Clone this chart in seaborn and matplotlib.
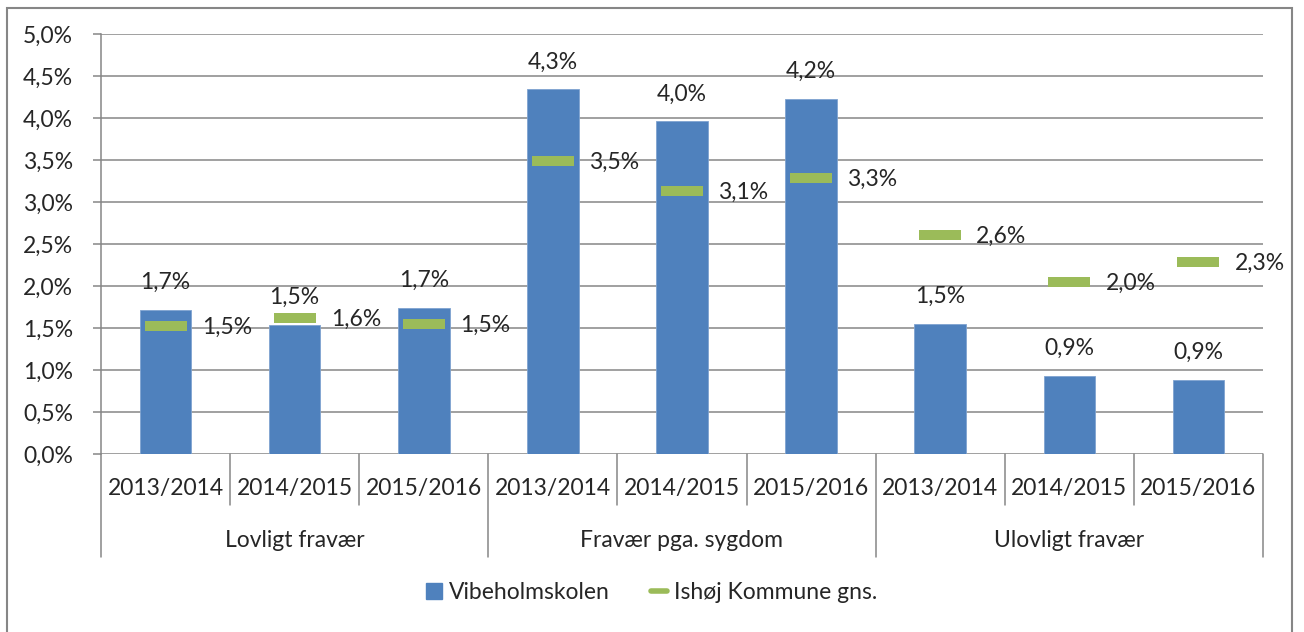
import matplotlib
matplotlib.use("Agg")
import matplotlib.pyplot as plt
import matplotlib.patches as mpatches
from matplotlib.lines import Line2D
import matplotlib.transforms as mtransforms
import seaborn as sns
import pandas as pd

# data
groups = ["Lovligt fravær", "Fravær pga. sygdom", "Ulovligt fravær"]
years = ["2013/2014", "2014/2015", "2015/2016"]
vibeholm = [1.72, 1.54, 1.74, 4.34, 3.96, 4.23, 1.55, 0.93, 0.88]
vibeholm_labels = ["1,7%", "1,5%", "1,7%", "4,3%", "4,0%", "4,2%", "1,5%", "0,9%", "0,9%"]
ishoj = [1.52, 1.62, 1.55, 3.49, 3.13, 3.29, 2.61, 2.05, 2.29]
ishoj_labels = ["1,5%", "1,6%", "1,5%", "3,5%", "3,1%", "3,3%", "2,6%", "2,0%", "2,3%"]
yticks = [0.0, 0.5, 1.0, 1.5, 2.0, 2.5, 3.0, 3.5, 4.0, 4.5, 5.0]

blue = "#4F81BD"
green = "#9BBB59"
gray = "#868686"

sns.set_style("white")
plt.rcParams["font.family"] = ["Lato", "DejaVu Sans"]
fs = 16.5

df = pd.DataFrame({
    "pos": list(range(9)),
    "group": [g for g in groups for _ in years],
    "year": years * 3,
    "vibeholm": vibeholm,
    "ishoj": ishoj,
})

fig = plt.figure(figsize=(13.04, 6.32), dpi=100)
ax = fig.add_axes([101 / 1304, 178 / 632, (1263 - 101) / 1304, 420 / 632])

sns.barplot(data=df, x="pos", y="vibeholm", color=blue, width=0.4,
            saturation=1, ax=ax, edgecolor="#7FA3D0", linewidth=0.6, zorder=3)
sns.scatterplot(data=df, x="pos", y="ishoj", marker="_", s=30 ** 2,
                linewidth=7.2, color=green, ax=ax, zorder=4, legend=False)

ax.set_xlim(-0.5, 8.5)
ax.set_ylim(0, 5.0)
ax.set_yticks(yticks)
ax.set_yticklabels([f"{t:.1f}".replace(".", ",") + "%" for t in yticks], fontsize=fs)
ax.tick_params(axis="y", length=6, width=1.1, color=gray, pad=14, left=True)
ax.set_xticks([])
ax.set_xlabel("")
ax.set_ylabel("")
ax.grid(axis="y", color=gray, linewidth=1.1, zorder=0)
ax.set_axisbelow(True)
for s in ["top", "right", "bottom"]:
    ax.spines[s].set_visible(False)
ax.spines["left"].set_color(gray)
ax.spines["left"].set_linewidth(1.1)

# value labels
for i, (v, lab) in enumerate(zip(vibeholm, vibeholm_labels)):
    ax.annotate(lab, (i, v), xytext=(0, 15), textcoords="offset points",
                ha="center", va="baseline", fontsize=fs)
for i, (v, lab) in enumerate(zip(ishoj, ishoj_labels)):
    ax.annotate(lab, (i, v), xytext=(26, -1), textcoords="offset points",
                ha="left", va="center", fontsize=fs)

# two-level category axis
trans = mtransforms.blended_transform_factory(ax.transData, ax.transAxes)
for b in range(10):
    x = b - 0.5
    bottom = -0.245 if b % 3 == 0 else -0.121
    ax.add_line(Line2D([x, x], [0, bottom], transform=trans, color=gray,
                       linewidth=1.1, clip_on=False))
for i, y in enumerate(df["year"]):
    ax.text(i, -0.081, y, transform=trans, ha="center", va="center", fontsize=fs)
for j, g in enumerate(groups):
    ax.text(3 * j + 1, -0.205, g, transform=trans, ha="center", va="center", fontsize=fs)

# legend
handles = [mpatches.Patch(color=blue, label="Vibeholmskolen"),
           Line2D([], [], color=green, linewidth=4, label="Ishøj Kommune gns.")]
fig.legend(handles=handles, loc="center", bbox_to_anchor=(0.5, 0.062), ncol=2,
           frameon=False, fontsize=fs, handlelength=0.7, handleheight=0.7,
           handletextpad=0.3, columnspacing=1.8)

# chart frame
fig.add_artist(mpatches.Rectangle((7 / 1304, -0.05), (1292 - 7) / 1304, (628 - 4) / 632 + 0.05,
                                  transform=fig.transFigure, fill=False,
                                  edgecolor=gray, linewidth=1.5))

fig.savefig("out.png", dpi=100)
